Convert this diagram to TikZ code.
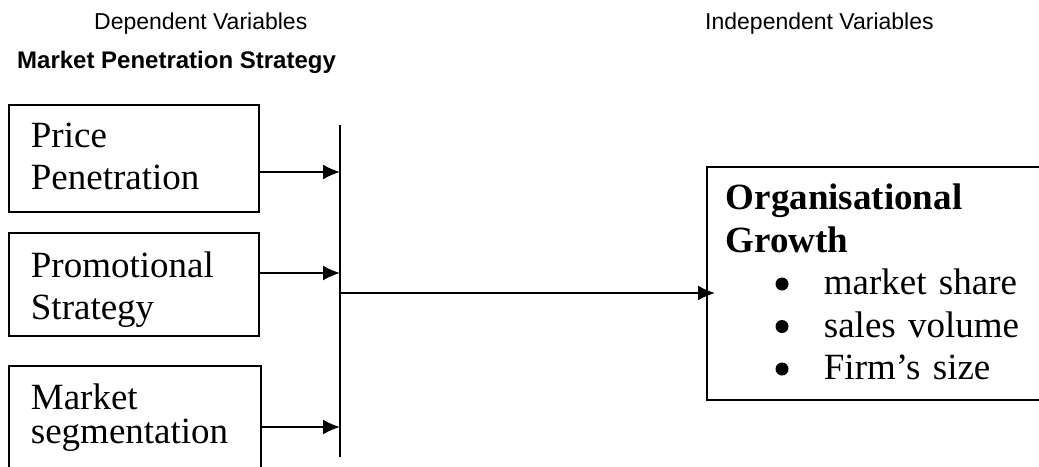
\documentclass[tikz,border=0pt]{standalone}
\usepackage{fontspec}
\setmainfont{Liberation Serif}
\newfontfamily\arialfont{Liberation Sans}
\usetikzlibrary{arrows.meta}

\tikzset{
  varbox/.style={draw, line width=1.8pt, anchor=north west, align=left,
    inner xsep=22pt, inner ysep=0pt, text width=206pt,
    font=\fontsize{37}{42}\selectfont},
  head/.style={anchor=base west, inner sep=0pt,
    font=\arialfont\fontsize{23}{27}\selectfont},
  link/.style={line width=1.8pt, -{Latex[length=17pt,width=15pt]}},
}
% one indented line of the outcome box (bullets drawn below)
\newcommand{\gitem}[1]{\hspace*{98pt}#1}

\begin{document}
\begin{tikzpicture}[x=1pt, y=-1pt]
  \useasboundingbox (0,0) rectangle (1039,466);
  \clip (0,0) rectangle (1039,466);
  % headings
  \node[head] (dep) at (94,29) {Dependent Variables};
  \node[head] (indep) at (705,29) {Independent Variables};
  \node[head, font=\arialfont\bfseries\fontsize{24}{28}\selectfont] (mps) at (17,68) {Market Penetration Strategy};
  % the three strategy boxes
  \node[varbox, text height=43pt, text depth=64pt] (price) at (8,104) {Price\\Penetration};
  \node[varbox, text height=45pt, text depth=58pt] (promo) at (8,232) {Promotional\\Strategy};
  \node[varbox, text width=208pt, text height=44pt, text depth=80pt] (segment) at (8,365) {Market\\[-8pt]segmentation};
  % outcome box, running off the right edge
  \node[varbox, inner xsep=19pt, text width=400pt, text height=43pt, text depth=190pt,
    font=\fontsize{37}{42.5}\selectfont] (growth) at (706,166)
    {\textbf{Organisational}\\\textbf{Growth}\\\gitem{market share}\\\gitem{sales volume}\\\gitem{Firm’s size}};
  % bullets
  \foreach \by in {284,326.5,369}
    \fill (782,\by) circle (6.5);
  % collecting bar
  \coordinate (bartop) at (340,125);
  \coordinate (barbot) at (340,457);
  \draw[line width=1.8pt] (bartop) -- (barbot);
  \coordinate (in1) at (340,172);
  \coordinate (in2) at (340,273);
  \coordinate (in3) at (340,427);
  \coordinate (out) at (340,293);
  % arrows into the bar and out to the outcome
  \draw[link] (price.east |- in1) -- (in1);
  \draw[link] (promo.east |- in2) -- (in2);
  \draw[link] (segment.east |- in3) -- (in3);
  \draw[link] (out) -- ([xshift=9pt]out -| growth.west);
\end{tikzpicture}
\end{document}
